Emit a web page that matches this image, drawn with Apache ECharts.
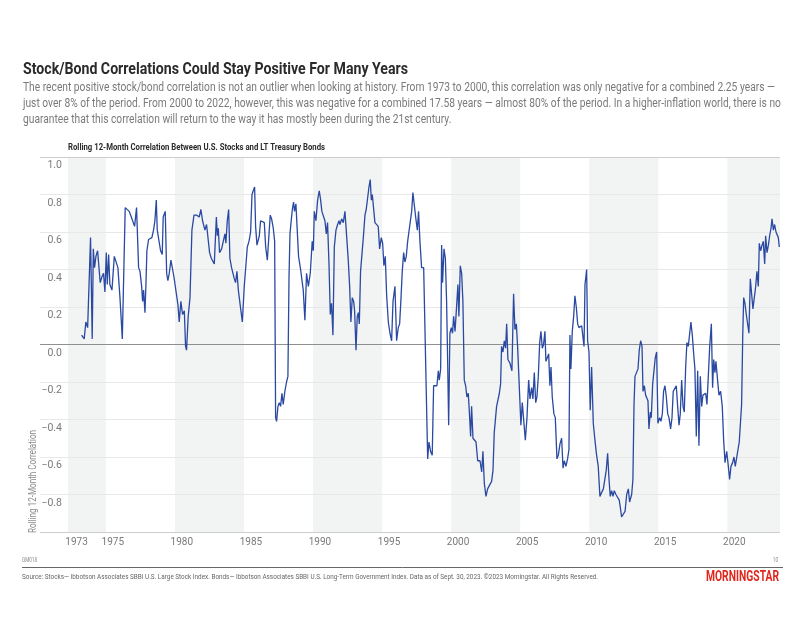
<!DOCTYPE html>
<html>
<head>
<meta charset="utf-8">
<script src="https://cdn.jsdelivr.net/npm/echarts@6/dist/echarts.min.js"></script>
<style>
html,body{margin:0;padding:0;background:#fff;}
#chart{width:805px;height:622px;}
</style>
</head>
<body>
<div id="chart"></div>
<script>
// ---------- DATA ----------
const titleText = 'Stock/Bond Correlations Could Stay Positive For Many Years';
const subtitleLines = [
  'The recent positive stock/bond correlation is not an outlier when looking at history. From 1973 to 2000, this correlation was only negative for a combined 2.25 years \u2014',
  'just over 8% of the period. From 2000 to 2022, however, this was negative for a combined 17.58 years \u2014 almost 80% of the period. In a higher-inflation world, there is no',
  'guarantee that this correlation will return to the way it has mostly been during the 21st century.'
];
const chartTitle = 'Rolling 12-Month Correlation Between U.S. Stocks and LT Treasury Bonds';
const yAxisTitle = 'Rolling 12-Month Correlation';
const footCode = 'GM018';
const pageNum = '10';
const sourceText = 'Source: Stocks\u2014 Ibbotson Associates SBBI U.S. Large Stock Index. Bonds\u2014 Ibbotson Associates SBBI U.S. Long-Term Government Index. Data as of Sept. 30, 2023. \u00a92023 Morningstar. All Rights Reserved.';
const logoText = 'MORNINGSTAR';

const xTickYears = [1973, 1975, 1980, 1985, 1990, 1995, 2000, 2005, 2010, 2015, 2020];
const shadedPeriods = [[1972.25, 1975], [1980, 1985], [1990, 1995], [2000, 2005], [2010, 2015], [2020, 2023.81]];

// decimal year of each observation
const obsYears = [
1973.24,1973.43,1973.55,1973.68,1973.77,1973.89,1974.01,1974.09,1974.18,1974.28,1974.40,1974.59,1974.71,1974.83,1974.93,
1975.03,1975.10,1975.20,1975.29,1975.44,1975.61,1975.75,1975.87,1976.02,1976.19,1976.40,1976.52,1976.69,1976.84,1976.96,
1977.08,1977.22,1977.37,1977.47,1977.59,1977.66,1977.73,1977.83,1977.90,1977.97,1978.09,1978.19,1978.33,1978.45,1978.55,
1978.65,1978.72,1978.82,1978.96,1979.08,1979.15,1979.30,1979.40,1979.49,1979.59,1979.71,1979.83,1979.93,1980.07,1980.22,
1980.31,1980.43,1980.55,1980.68,1980.77,1980.84,1980.96,1981.09,1981.23,1981.38,1981.57,1981.76,1981.88,1982.00,
1982.17,1982.29,1982.41,1982.51,1982.63,1982.75,1982.85,1983.00,1983.07,1983.14,1983.23,1983.38,1983.50,1983.62,1983.69,
1983.79,1983.89,1983.98,1984.10,1984.17,1984.30,1984.39,1984.49,1984.59,1984.71,1984.88,1985.02,1985.24,1985.36,1985.48,
1985.58,1985.67,1985.77,1985.84,1985.94,1986.03,1986.11,1986.20,1986.32,1986.47,1986.57,1986.69,1986.81,1986.90,1987.00,
1987.12,1987.22,1987.29,1987.36,1987.46,1987.55,1987.65,1987.75,1987.84,1987.96,1988.08,1988.18,1988.26,1988.33,1988.42,
1988.50,1988.59,1988.66,1988.76,1988.83,1988.95,1989.10,1989.20,1989.29,1989.41,1989.53,1989.66,1989.80,1989.94,1990.02,
1990.09,1990.21,1990.33,1990.45,1990.55,1990.64,1990.74,1990.86,1990.96,1991.05,1991.15,1991.25,1991.34,1991.44,1991.54,
1991.66,1991.78,1991.88,1991.95,1992.07,1992.19,
1992.31,1992.43,1992.55,1992.65,1992.74,1992.84,1992.94,1993.01,1993.11,1993.20,1993.28,1993.35,1993.44,1993.54,1993.64,
1993.76,1993.85,1993.95,1994.05,1994.14,1994.22,1994.29,1994.39,1994.48,1994.60,1994.72,1994.82,1994.94,1995.04,1995.13,
1995.23,1995.33,1995.45,1995.57,1995.69,1995.79,1995.93,1996.05,1996.17,1996.27,1996.37,1996.46,1996.56,1996.65,1996.75,
1996.85,1996.94,1997.04,1997.14,1997.23,1997.33,1997.43,1997.55,1997.64,1997.74,1997.86,1998.01,1998.13,1998.30,1998.39,
1998.51,1998.63,1998.73,1998.85,1998.97,1999.07,1999.14,1999.24,1999.31,1999.38,1999.48,1999.58,1999.67,1999.74,1999.82,
1999.91,2000.01,2000.10,2000.18,2000.28,2000.40,2000.49,2000.56,2000.66,2000.76,2000.85,2000.95,2001.05,2001.14,2001.24,
2001.34,2001.41,2001.48,2001.58,2001.68,2001.80,2001.92,2002.09,2002.21,2002.30,2002.40,
2002.52,2002.64,2002.78,2002.93,2003.03,2003.12,2003.20,2003.29,2003.39,2003.49,2003.58,2003.65,2003.75,2003.85,2003.94,
2004.02,2004.11,2004.26,2004.40,2004.52,2004.62,2004.72,2004.81,2004.93,2005.05,2005.15,2005.25,2005.37,2005.49,2005.61,
2005.71,2005.83,2005.92,2006.02,2006.12,2006.21,2006.31,2006.41,2006.50,2006.60,2006.69,2006.79,2006.86,2006.96,2007.06,
2007.15,2007.23,2007.32,2007.44,2007.54,2007.66,2007.76,2007.88,2008.00,2008.10,2008.19,2008.31,2008.43,2008.53,2008.60,
2008.67,2008.77,2008.87,2008.96,2009.06,2009.16,2009.25,2009.35,2009.45,2009.54,2009.62,2009.69,2009.81,2009.88,2009.98,
2010.07,2010.17,2010.29,2010.41,2010.53,2010.65,2010.77,2010.89,2011.02,2011.14,2011.23,2011.33,2011.43,2011.52,2011.62,
2011.72,2011.81,2011.93,2012.05,2012.17,2012.27,2012.34,2012.46,
2012.59,2012.71,2012.83,2012.92,2013.07,2013.16,2013.24,2013.31,2013.41,2013.53,2013.62,2013.72,2013.82,2013.89,2013.99,
2014.08,2014.18,2014.25,2014.32,2014.42,2014.49,2014.59,2014.68,2014.78,2014.88,2014.97,2015.10,2015.19,2015.29,2015.38,
2015.48,2015.58,2015.68,2015.77,2015.89,2015.99,2016.08,2016.21,2016.30,2016.40,2016.50,2016.59,2016.69,2016.79,2016.88,
2016.98,2017.07,2017.17,2017.27,2017.36,2017.46,2017.56,2017.65,2017.75,2017.85,2017.94,2018.04,2018.14,2018.23,2018.33,
2018.43,2018.52,2018.62,2018.72,2018.84,2018.93,2019.01,2019.10,2019.17,2019.29,2019.39,2019.51,2019.63,2019.73,2019.83,
2019.95,2020.07,2020.16,2020.26,2020.38,2020.48,2020.57,2020.67,2020.77,2020.86,2020.96,2021.03,2021.11,2021.18,2021.27,
2021.37,2021.47,2021.56,2021.66,2021.76,2021.85,2021.95,2022.05,2022.14,2022.24,2022.31,2022.41,2022.51,2022.60,2022.70,
2022.77,2022.87,2022.97,2023.06,2023.16,2023.23,2023.33,2023.42,2023.52,2023.62,2023.69,2023.76
];
// rolling 12-month correlation at each observation
const correlation = [
0.05,0.03,0.12,0.09,0.09,0.57,0.03,0.51,0.41,0.47,0.50,0.33,0.36,0.38,0.28,
0.49,0.32,0.48,0.32,0.29,0.47,0.46,0.41,0.25,0.03,0.73,0.74,0.71,0.68,0.68,
0.63,0.73,0.41,0.39,0.31,0.23,0.29,0.17,0.32,0.50,0.56,0.57,0.57,0.61,0.66,
0.77,0.61,0.61,0.50,0.48,0.68,0.71,0.38,0.34,0.38,0.45,0.45,0.36,0.35,0.21,
0.12,0.23,0.16,0.18,-0.01,-0.03,0.15,0.25,0.61,0.69,0.69,0.68,0.72,0.66,
0.61,0.64,0.63,0.49,0.46,0.47,0.43,0.68,0.58,0.62,0.49,0.51,0.55,0.59,0.54,
0.66,0.72,0.46,0.41,0.40,0.35,0.33,0.39,0.29,0.28,0.12,0.31,0.52,0.55,0.60,
0.80,0.82,0.84,0.63,0.53,0.54,0.58,0.66,0.66,0.65,0.52,0.45,0.46,0.69,0.67,
0.62,0.55,-0.39,-0.41,-0.33,-0.31,-0.33,-0.26,-0.32,-0.25,-0.20,-0.17,0.36,0.59,0.66,
0.72,0.76,0.71,0.75,0.75,0.47,0.40,0.39,0.29,0.13,0.38,0.31,0.38,0.55,0.50,
0.71,0.66,0.77,0.82,0.77,0.71,0.71,0.66,0.59,0.65,0.44,0.16,0.22,0.05,0.52,
0.61,0.64,0.66,0.64,0.67,0.65,
0.71,0.71,0.45,0.31,0.12,0.25,0.23,0.18,-0.03,0.15,0.17,0.11,0.39,0.38,0.57,
0.69,0.72,0.73,0.84,0.88,0.77,0.80,0.79,0.65,0.64,0.63,0.51,0.57,0.54,0.42,
0.47,0.26,0.12,0.06,0.02,0.23,0.31,0.02,0.09,0.11,0.25,0.39,0.49,0.44,0.47,
0.55,0.60,0.61,0.71,0.81,0.81,0.68,0.61,0.71,0.55,0.41,0.41,0.40,-0.61,-0.52,
-0.57,-0.59,-0.22,-0.22,-0.22,-0.14,-0.19,-0.13,0.53,0.33,0.51,0.46,0.23,-0.06,-0.43,
0.06,0.09,0.06,0.15,0.07,0.21,0.32,0.15,0.42,0.38,0.23,-0.19,-0.22,-0.28,-0.26,
-0.39,-0.49,-0.33,-0.50,-0.51,-0.52,-0.62,-0.62,-0.68,-0.57,-0.74,
-0.81,-0.77,-0.75,-0.73,-0.67,-0.47,-0.46,-0.33,-0.32,-0.26,-0.21,-0.01,-0.04,0.02,-0.02,
0.11,-0.08,-0.10,-0.14,0.27,0.08,0.11,-0.01,-0.02,-0.43,-0.31,-0.32,-0.51,-0.39,-0.19,
-0.29,-0.23,-0.29,-0.15,-0.31,-0.28,-0.17,0.01,0.07,-0.02,0.00,0.07,-0.09,-0.10,-0.05,
-0.22,-0.12,-0.28,-0.37,-0.39,-0.61,-0.59,-0.53,-0.50,-0.66,-0.62,-0.65,-0.61,-0.56,0.05,
-0.13,0.07,0.15,0.26,0.20,0.11,0.09,0.09,0.10,0.11,-0.01,0.32,0.40,0.02,-0.04,
-0.35,-0.12,-0.42,-0.51,-0.59,-0.65,-0.81,-0.79,-0.77,-0.76,-0.67,-0.58,-0.72,-0.81,-0.78,
-0.81,-0.78,-0.80,-0.81,-0.83,-0.88,-0.92,-0.92,
-0.89,-0.80,-0.77,-0.84,-0.80,-0.72,-0.32,-0.17,-0.18,-0.13,-0.03,0.02,-0.01,-0.25,-0.22,
-0.27,-0.26,-0.30,-0.45,-0.36,-0.39,-0.21,-0.21,-0.07,-0.04,-0.42,-0.39,-0.41,-0.37,-0.25,
-0.22,-0.28,-0.37,-0.39,-0.45,-0.39,-0.25,-0.24,-0.22,-0.33,-0.43,-0.37,-0.19,-0.33,-0.36,
-0.12,0.01,-0.01,-0.01,0.12,0.05,-0.05,-0.13,-0.49,-0.14,-0.54,-0.17,-0.33,-0.27,-0.28,
-0.26,-0.32,-0.17,-0.01,0.11,-0.23,-0.08,-0.15,-0.09,-0.19,-0.27,-0.25,-0.33,-0.51,-0.63,
-0.57,-0.65,-0.72,-0.65,-0.63,-0.60,-0.65,-0.65,-0.56,-0.52,-0.51,-0.32,0.04,0.25,0.22,
0.16,0.15,0.06,0.35,0.34,0.19,0.18,0.31,0.39,0.31,0.54,0.50,0.53,0.55,0.43,
0.58,0.49,0.53,0.58,0.62,0.67,0.61,0.64,0.60,0.61,0.57,0.52
];

// ---------- CHART ----------
const FONT = "Roboto, 'Liberation Sans', sans-serif";
const xMin = 1970.23, xMax = 2023.81;
const plotStart = shadedPeriods[0][0];

const seriesData = obsYears.map((y, i) => [y, correlation[i]]);
const labelValues = xTickYears.map((y, i) => i === 0 ? plotStart + 0.63 : y + 0.5);
const labelMap = {};
labelValues.forEach((v, i) => { labelMap[v.toFixed(3)] = String(xTickYears[i]); });

const splitColors = [];
for (let i = 0; i <= 10; i++) {
  splitColors.push(i === 5 ? '#8f8f8f' : (i === 0 || i === 10) ? '#cdcdcd' : '#e8e8e8');
}

// emulate the condensed typeface: horizontally squeeze text to the reference widths
const measureCtx = document.createElement('canvas').getContext('2d');
function squeeze(text, font, width) {
  measureCtx.font = font;
  return width / measureCtx.measureText(text).width;
}
const fTitle = 'bold 16px ' + FONT;
const fSub = '12px ' + FONT;
const fChartTitle = 'bold 9px ' + FONT;
const fAxisTitle = '10px ' + FONT;
const fTiny = '7px ' + FONT;
const fLogo = 'bold 14px ' + FONT;
const sTitle = squeeze(titleText, fTitle, 385);
const sSub = squeeze(subtitleLines[0], fSub, 752);
const sChartTitle = squeeze(chartTitle, fChartTitle, 257);
const sAxisTitle = squeeze(yAxisTitle, fAxisTitle, 103);
const sSource = squeeze(sourceText, fTiny, 576);
const sFoot = squeeze(footCode, fTiny, 15);
const sLogo = squeeze(logoText, fLogo, 73);

function txt(text, font, x, y, sx, fill, align, extra) {
  return Object.assign({
    type: 'text', x: x, y: y, scaleX: sx,
    style: {text: text, font: font, fill: fill, align: align || 'left', verticalAlign: 'middle'}
  }, extra || {});
}

const chart = echarts.init(document.getElementById('chart'), null, {renderer: 'canvas'});
chart.setOption({
  animation: false,
  backgroundColor: '#ffffff',
  textStyle: {fontFamily: FONT},
  grid: {left: 40, right: 25, top: 157, bottom: 90, containLabel: false},
  xAxis: {
    type: 'value', min: xMin, max: xMax, z: 2,
    axisLine: {show: false}, axisTick: {show: false}, splitLine: {show: false},
    axisLabel: {
      customValues: labelValues,
      formatter: v => labelMap[Number(v).toFixed(3)] || '',
      color: '#7a7a7a', fontSize: 10, fontFamily: FONT, margin: 5
    }
  },
  yAxis: {
    type: 'value', min: -1, max: 1, interval: 0.2, z: 2,
    axisLine: {show: false}, axisTick: {show: false},
    splitLine: {show: true, lineStyle: {color: splitColors, width: 1}},
    axisLabel: {
      inside: true, align: 'right', verticalAlign: 'top', margin: 22,
      padding: [3, 0, 0, 0],
      showMinLabel: false,
      color: '#7a7a7a', fontSize: 10.5, fontFamily: FONT,
      formatter: v => (v < -1e-9 ? '\u2212' : '') + Math.abs(v).toFixed(1)
    }
  },
  series: [
    {
      type: 'line', z: 1, data: [], silent: true,
      markArea: {
        silent: true,
        itemStyle: {color: '#f2f3f3'},
        data: shadedPeriods.map(p => [{xAxis: p[0], yAxis: 1}, {xAxis: p[1], yAxis: -1}])
      }
    },
    {
      type: 'line', z: 3, data: seriesData, showSymbol: false, symbol: 'none',
      lineStyle: {color: '#2a49a1', width: 1.3},
      silent: true
    }
  ],
  graphic: [
    txt(titleText, fTitle, 23, 69.5, sTitle, '#2b2b2b'),
    txt(subtitleLines[0], fSub, 23, 88, sSub, '#7a7a7a'),
    txt(subtitleLines[1], fSub, 23, 104, sSub, '#7a7a7a'),
    txt(subtitleLines[2], fSub, 23, 120, sSub, '#7a7a7a'),
    txt(chartTitle, fChartTitle, 68, 148, sChartTitle, '#2b2b2b'),
    {type: 'text', x: 33, y: 533, rotation: Math.PI / 2, scaleX: sAxisTitle,
     style: {text: yAxisTitle, font: fAxisTitle, fill: '#8a8a8a', align: 'left', verticalAlign: 'middle'}},
    txt(footCode, fTiny, 22, 560, sFoot, '#8a8a8a'),
    txt(pageNum, fTiny, 778, 560, sFoot, '#8a8a8a', 'right'),
    {type: 'line', shape: {x1: 22, y1: 567.5, x2: 783, y2: 567.5}, style: {stroke: '#666666', lineWidth: 1}},
    txt(sourceText, fTiny, 22, 577, sSource, '#666666'),
    txt(logoText, fLogo, 706, 577.5, sLogo, '#e1251b')
  ]
});
</script>
</body>
</html>
